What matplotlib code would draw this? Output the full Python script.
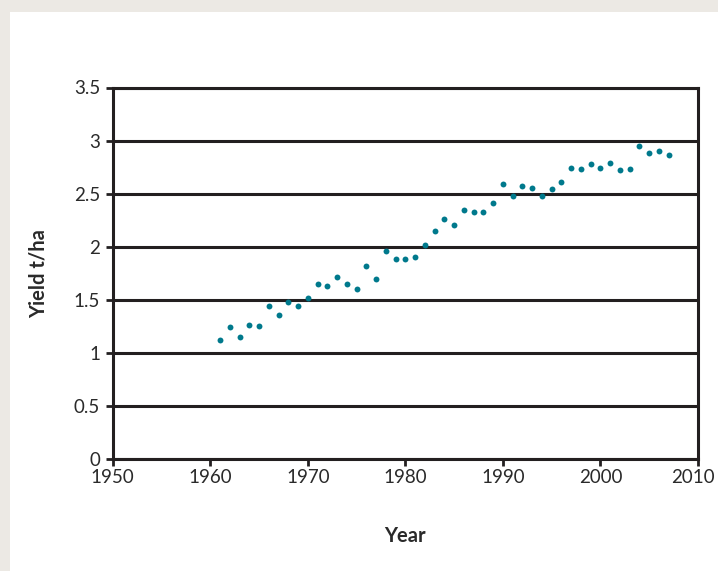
import matplotlib
matplotlib.use("Agg")
import matplotlib.pyplot as plt
from matplotlib.patches import Rectangle
from matplotlib.transforms import ScaledTranslation

years = list(range(1961, 2008))
yields = [1.12, 1.24, 1.15, 1.26, 1.25, 1.44, 1.36, 1.48, 1.44, 1.52,
          1.65, 1.63, 1.71, 1.65, 1.60, 1.82, 1.70, 1.96, 1.88, 1.88,
          1.90, 2.02, 2.15, 2.26, 2.20, 2.35, 2.33, 2.33, 2.41, 2.59,
          2.48, 2.57, 2.55, 2.48, 2.54, 2.61, 2.74, 2.73, 2.78, 2.74,
          2.79, 2.72, 2.73, 2.95, 2.88, 2.90, 2.86]
x_ticks = [1950, 1960, 1970, 1980, 1990, 2000, 2010]
y_ticks = [0, 0.5, 1, 1.5, 2, 2.5, 3, 3.5]
y_labels = ["0", "0.5", "1", "1.5", "2", "2.5", "3", "3.5"]

plt.rcParams['font.family'] = ['Lato', 'DejaVu Sans']
W, H = 718, 571
fig = plt.figure(figsize=(W/100, H/100), dpi=100)
fig.patch.set_facecolor('#ECE9E4')
fig.patches.append(Rectangle((10/W, 0), 1, 1 - 12/H, transform=fig.transFigure,
                             facecolor='white', edgecolor='none', zorder=-10))

ax = fig.add_axes([112.7/W, 1 - 459/H, (698 - 112.7)/W, (459 - 87.5)/H])
ax.set_zorder(1)
ax.set_facecolor('white')
dark = '#231f20'
ax.scatter(years, yields, s=18, color='#00798C', zorder=3, linewidths=0)
ax.set_xlim(1950, 2010)
ax.set_ylim(0, 3.5)
ax.set_xticks(x_ticks)
ax.set_yticks(y_ticks)
ax.set_yticklabels(y_labels)
ax.yaxis.grid(True, color=dark, linewidth=2.2)
ax.set_axisbelow(True)
for s in ['left', 'bottom', 'right', 'top']:
    ax.spines[s].set_color(dark)
    ax.spines[s].set_linewidth(2.2)
ax.tick_params(axis='both', colors=dark, width=2, length=5, labelsize=13.5,
               labelcolor='#2a2a2a')
ax.tick_params(axis='x', pad=2)
ax.tick_params(axis='y', pad=4)
ax.set_ylabel('Yield t/ha', fontsize=14.5, fontweight='bold', color='#2a2a2a', labelpad=18)
ax.set_xlabel('Year', fontsize=14.5, fontweight='bold', color='#2a2a2a', labelpad=29)

fig.canvas.draw()
last = ax.get_xticklabels()[-1]
last.set_transform(last.get_transform() + ScaledTranslation(-5/100, 0, fig.dpi_scale_trans))
fig.savefig('out.png', dpi=100, facecolor=fig.get_facecolor())
